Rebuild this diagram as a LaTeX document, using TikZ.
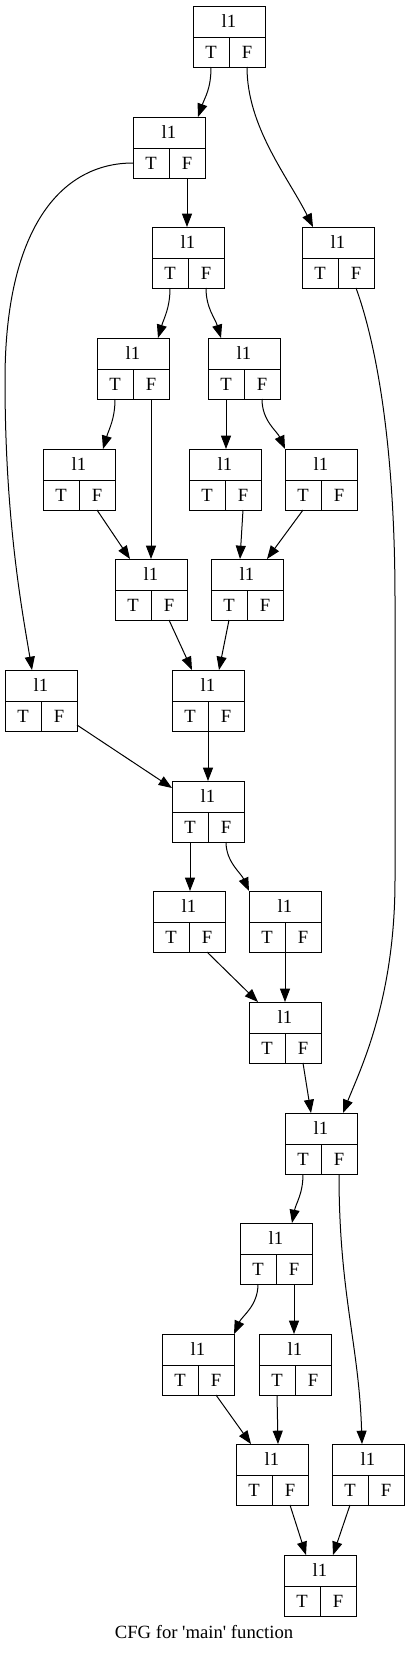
\documentclass[tikz,border=0pt]{standalone}
\usepackage{fontspec}
\setmainfont{Liberation Serif}
\usepackage{tikz}
\usetikzlibrary{arrows.meta,positioning,calc}

\begin{document}
\begin{tikzpicture}[
      x=0.75pt, y=-0.75pt,
      rec/.style={rectangle, draw=black, line width=0.75pt, outer sep=0pt, inner sep=0pt,
                  minimum width=54pt, minimum height=23.25pt, font=\fontsize{14}{17}\selectfont},
      fld/.style={rectangle, draw=black, line width=0.75pt, outer sep=0pt, inner sep=0pt,
                  minimum width=27pt, minimum height=22.5pt, font=\fontsize{14}{17}\selectfont},
      flow/.style={-{Triangle[length=10pt,width=7.5pt]}, line width=0.75pt}
    ]
      \useasboundingbox (0,0) rectangle (409,1653);
      \foreach \n/\x/\y in {b1/229/6, b2/169/117, b3/188/227, b4/338/227,
                            b5/133/338, b6/244/338, b7/79/449, b8/225/449, b9/321/449,
                            b10/151/559, b11/247/559, b12/41/670, b13/208/670,
                            b14/208/781, b15/189/891, b16/285/891, b17/285/1002,
                            b18/321/1113, b19/276/1223, b20/198/1334, b21/295/1334,
                            b22/272/1444, b23/368/1444, b24/320/1555}{
        \node[rec, anchor=north] (\n) at (\x,\y) {l1};
        \node[fld, anchor=north east] (\n-t) at (\n.south) {T};
        \node[fld, anchor=north west] (\n-f) at (\n.south) {F};
      }
      \draw[flow] (b1-t.south) .. controls +(0,22) and +(7,-20) .. ($(b2.north)+(29,0)$);
      \draw[flow] (b1-f.south) .. controls +(0,60) and +(-25,-50) .. ($(b4.north)+(-25,0)$);
      \draw[flow] (b2-t.west) .. controls (60,163) and (5,230) .. (5,380)
                  .. controls (5,520) and (22,610) .. ($(b12.north)+(-9,0)$);
      \draw[flow] (b2-f.south) -- (b2-f.south |- b3.north);
      \draw[flow] (b3-t.south) .. controls +(0,20) and +(6,-20) .. ($(b5.north)+(25,0)$);
      \draw[flow] (b3-f.south) .. controls +(0,20) and +(-6,-20) .. ($(b6.north)+(-23,0)$);
      \draw[flow] (b4-f.south) .. controls (375,340) and (395,440) .. (395,600) -- (395,880)
                  .. controls (395,1000) and (360,1070) .. ($(b18.north)+(22,0)$);
      \draw[flow] (b5-t.south) .. controls +(0,20) and +(6,-20) .. ($(b7.north)+(24,0)$);
      \draw[flow] (b5-f.south) -- (b5-f.south |- b10.north);
      \draw[flow] (b6-t.south) -- (b6-t.south |- b8.north);
      \draw[flow] (b6-f.south) .. controls +(0,22) and +(-8,-18) .. (b9.north west);
      \draw[flow] (b7-f.south) -- ($(b10.north)+(-21,0)$);
      \draw[flow] (b8-f.south) -- ($(b11.north)+(-7,0)$);
      \draw[flow] (b9-t.south) -- ($(b11.north)+(20,0)$);
      \draw[flow] (b10-f.south) -- ($(b13.north)+(-16,0)$);
      \draw[flow] (b11-t.south) -- ($(b13.north)+(11,0)$);
      \draw[flow] ($(b12-f.east)+(0,9)$) -- ($(b14.north west)+(0,7)$);
      \draw[flow] (b13-t.south east) -- (b14.north);
      \draw[flow] (b14-t.south) -- (b14-t.south |- b15.north);
      \draw[flow] (b14-f.south) .. controls +(0,20) and +(-8,-18) .. (b16.north west);
      \draw[flow] (b15-f.south) -- ($(b17.north)+(-27,0)$);
      \draw[flow] (b16-t.south east) -- (b17.north);
      \draw[flow] (b17-f.south) -- ($(b18.north)+(-10,0)$);
      \draw[flow] (b18-t.south) .. controls +(0,20) and +(4,-20) .. ($(b19.north)+(16,0)$);
      \draw[flow] (b18-f.south) .. controls +(0,120) and +(-3,-100) .. ($(b23.north)+(-6,0)$);
      \draw[flow] (b19-t.south) .. controls +(0,22) and +(8,-18) .. (b20.north east);
      \draw[flow] (b19-f.south) -- (b19-f.south |- b21.north);
      \draw[flow] (b20-f.south) -- ($(b22.north)+(-21,0)$);
      \draw[flow] (b21-t.south) -- ($(b22.north)+(6,0)$);
      \draw[flow] (b22-f.south) -- ($(b24.north)+(-14,0)$);
      \draw[flow] (b23-t.south) -- ($(b24.north)+(13,0)$);
      \node[font=\fontsize{14}{17}\selectfont] (cap) at (204,1632)
        {CFG for \textquotesingle main\textquotesingle{} function};
    \end{tikzpicture}
\end{document}
